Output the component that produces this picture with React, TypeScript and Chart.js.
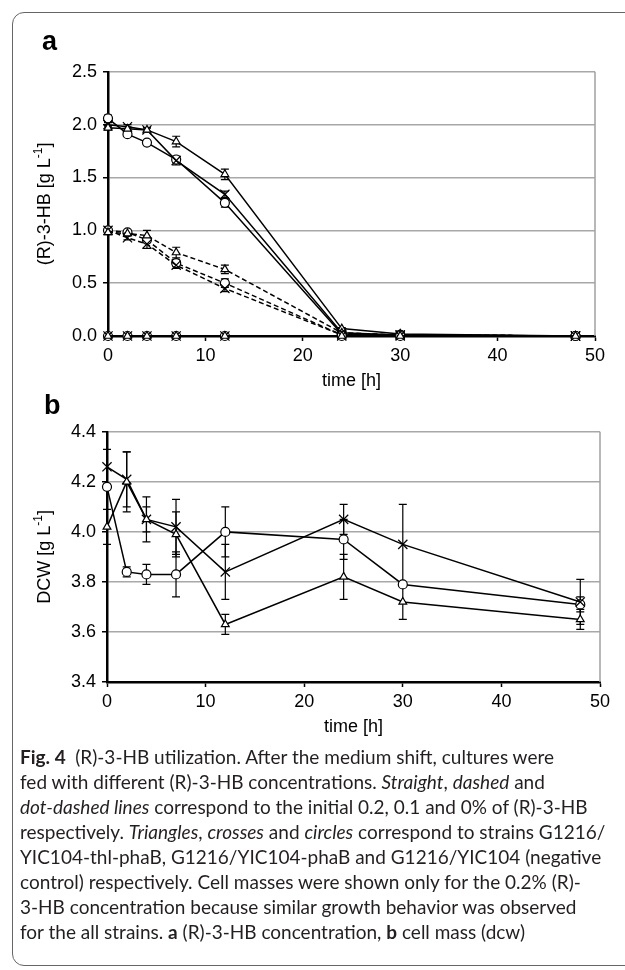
import React, { useEffect, useRef } from "react";
import { Chart, registerables } from "chart.js";

Chart.register(...registerables);

// ---------- data ----------
const times = [0, 2, 4, 7, 12, 24, 30, 48];

// panel a: (R)-3-HB [g/L]
const aTri02 = [1.97, 1.96, 1.95, 1.84, 1.53, 0.07, 0.02, 0.0];
const aCross02 = [2.0, 1.98, 1.95, 1.66, 1.34, 0.03, 0.01, 0.0];
const aCirc02 = [2.06, 1.91, 1.83, 1.67, 1.26, 0.02, 0.01, 0.0];
const aTri01 = [0.98, 0.97, 0.95, 0.79, 0.63, 0.03, 0.01, 0.0];
const aCross01 = [1.0, 0.93, 0.87, 0.67, 0.45, 0.01, 0.01, 0.0];
const aCirc01 = [1.0, 0.98, 0.91, 0.69, 0.5, 0.01, 0.01, 0.0];
const aTri00 = [0, 0, 0, 0, 0, 0, 0, 0];
const aCross00 = [0, 0, 0, 0, 0, 0, 0, 0];
const aCirc00 = [0, 0, 0, 0, 0, 0, 0, 0];

const aTri02Err = [0.02, 0.02, 0.02, 0.05, 0.05, 0.01, 0, 0];
const aCross02Err = [0.02, 0.02, 0.02, 0.04, 0.03, 0, 0, 0];
const aCirc02Err = [0.03, 0.02, 0.02, 0.03, 0.04, 0, 0, 0];
const aTri01Err = [0.02, 0.02, 0.05, 0.05, 0.04, 0, 0, 0];
const aCross01Err = [0.02, 0.02, 0.04, 0.03, 0.03, 0, 0, 0];
const aCirc01Err = [0.02, 0.02, 0.02, 0.03, 0.04, 0, 0, 0];

// panel b: DCW [g/L]
const bTri = [4.02, 4.2, 4.05, 3.99, 3.63, 3.82, 3.72, 3.65];
const bCross = [4.26, 4.21, 4.05, 4.02, 3.84, 4.05, 3.95, 3.72];
const bCirc = [4.18, 3.84, 3.83, 3.83, 4.0, 3.97, 3.79, 3.71];
const bTriErr = [0.07, 0.12, 0.05, 0.09, 0.04, 0.09, 0.07, 0.04];
const bCrossErr = [0.07, 0.11, 0.09, 0.11, 0.11, 0.06, 0.16, 0.09];
const bCircErr = [0.0, 0.02, 0.04, 0.09, 0.1, 0.08, 0.0, 0.03];

const xTitle = "time [h]";
const aYTitle = ["(R)-3-HB [g L", "-1", "]"];
const bYTitle = ["DCW [g L", "-1", "]"];

const captionLines = [
  [["b", "Fig. 4"], ["n", "\u2002(R)-3-HB utilization. After the medium shift, cultures were"]],
  [["n", "fed with different (R)-3-HB concentrations. "], ["i", "Straight"], ["n", ", "], ["i", "dashed"], ["n", " and"]],
  [["i", "dot-dashed lines"], ["n", " correspond to the initial 0.2, 0.1 and 0% of (R)-3-HB"]],
  [["n", "respectively. "], ["i", "Triangles"], ["n", ", "], ["i", "crosses"], ["n", " and "], ["i", "circles"], ["n", " correspond to strains G1216/"]],
  [["n", "YIC104-thl-phaB, G1216/YIC104-phaB and G1216/YIC104 (negative"]],
  [["n", "control) respectively. Cell masses were shown only for the 0.2% (R)-"]],
  [["n", "3-HB concentration because similar growth behavior was observed"]],
  [["n", "for the all strains. "], ["b", "a"], ["n", " (R)-3-HB concentration, "], ["b", "b"], ["n", " cell mass (dcw)"]],
];

const FONT = "'Liberation Sans', Arial, sans-serif";

function mk(vals: number[], errs: number[] | null, style: string, dash: number[]) {
  return {
    data: times.map((t, i) => ({ x: t, y: vals[i] })),
    errs: errs,
    borderColor: "#000",
    borderWidth: 1.5,
    borderDash: dash,
    pointStyle: style,
    pointRadius: style === "crossRot" ? 6.5 : 4.5,
    pointBorderColor: "#000",
    pointBackgroundColor: "#fff",
    pointBorderWidth: 1.2,
    fill: false,
    tension: 0,
    clip: false,
  } as any;
}

const framePlugin = {
  id: "frame",
  beforeDatasetsDraw(chart: any) {
    const { ctx, chartArea } = chart;
    ctx.save();
    ctx.strokeStyle = "#a0a0a0";
    ctx.lineWidth = 1.5;
    ctx.beginPath();
    ctx.moveTo(chartArea.right, chartArea.top);
    ctx.lineTo(chartArea.right, chartArea.bottom);
    ctx.stroke();
    // error bars
    const xs = chart.scales.x;
    const ys = chart.scales.y;
    ctx.strokeStyle = "#000";
    ctx.lineWidth = 1.2;
    ctx.setLineDash([]);
    chart.data.datasets.forEach((ds: any) => {
      if (!ds.errs) return;
      ds.data.forEach((p: any, i: number) => {
        const e = ds.errs[i];
        if (!e) return;
        const px = xs.getPixelForValue(p.x);
        const y1 = ys.getPixelForValue(p.y + e);
        const y2 = ys.getPixelForValue(p.y - e);
        ctx.beginPath();
        ctx.moveTo(px, y1);
        ctx.lineTo(px, y2);
        ctx.moveTo(px - 4, y1);
        ctx.lineTo(px + 4, y1);
        ctx.moveTo(px - 4, y2);
        ctx.lineTo(px + 4, y2);
        ctx.stroke();
      });
    });
    ctx.restore();
  },
  afterDraw(chart: any) {
    const { ctx, chartArea } = chart;
    const opts = chart.options.plugins.frame;
    ctx.save();
    ctx.fillStyle = "#000";
    ctx.font = "18px " + FONT;
    ctx.textAlign = "center";
    ctx.textBaseline = "middle";
    ctx.fillText(xTitle, (chartArea.left + chartArea.right) / 2, chartArea.bottom + opts.xTitleOffset);
    // y title with superscript
    const parts = opts.yTitle;
    ctx.translate(45, (chartArea.top + chartArea.bottom) / 2);
    ctx.rotate(-Math.PI / 2);
    ctx.textAlign = "left";
    ctx.font = "18px " + FONT;
    const w1 = ctx.measureText(parts[0]).width;
    const w3 = ctx.measureText(parts[2]).width;
    ctx.font = "12px " + FONT;
    const w2 = ctx.measureText(parts[1]).width;
    let x0 = -(w1 + w2 + w3) / 2;
    ctx.font = "18px " + FONT;
    ctx.fillText(parts[0], x0, 0);
    ctx.font = "12px " + FONT;
    ctx.fillText(parts[1], x0 + w1, -6);
    ctx.font = "18px " + FONT;
    ctx.fillText(parts[2], x0 + w1 + w2, 0);
    ctx.restore();
  },
};

function makeOptions(yMin: number, yMax: number, step: number, padTop: number, xH: number, yTitle: string[], xTitleOffset: number): any {
  return {
    responsive: false,
    animation: false,
    layout: { padding: { top: padTop, right: 30, left: 0, bottom: 0 } },
    plugins: {
      legend: { display: false },
      tooltip: { enabled: false },
      frame: { yTitle, xTitleOffset },
    },
    scales: {
      x: {
        type: "linear",
        min: 0,
        max: 50,
        ticks: { stepSize: 10, color: "#000", font: { size: 18, family: FONT }, padding: 4, maxRotation: 0 },
        grid: { drawOnChartArea: false, tickColor: "#000", tickLength: 5, tickWidth: 1.5 },
        border: { color: "#000", width: 2.5 },
        afterFit: (s: any) => { s.height = xH; },
      },
      y: {
        min: yMin,
        max: yMax,
        ticks: { stepSize: step, color: "#000", font: { size: 18, family: FONT }, padding: 6, callback: (v: number) => v.toFixed(1) },
        grid: { color: "#a8a8a8", lineWidth: 1.5, tickColor: "#000", tickLength: 5, tickWidth: 1.5 },
        border: { color: "#000", width: 2.5 },
        afterFit: (s: any) => { s.width = 108; },
      },
    },
  };
}

function ChartA() {
  const ref = useRef<HTMLCanvasElement>(null);
  useEffect(() => {
    const dashed = [5, 3];
    const dotDash = [9, 3, 2, 3];
    const chart = new Chart(ref.current as HTMLCanvasElement, {
      type: "line",
      data: {
        datasets: [
          mk(aTri00, null, "triangle", dotDash),
          mk(aCross00, null, "crossRot", dotDash),
          mk(aCirc00, null, "circle", dotDash),
          mk(aTri01, aTri01Err, "triangle", dashed),
          mk(aCross01, aCross01Err, "crossRot", dashed),
          mk(aCirc01, aCirc01Err, "circle", dashed),
          mk(aTri02, aTri02Err, "triangle", []),
          mk(aCross02, aCross02Err, "crossRot", []),
          mk(aCirc02, aCirc02Err, "circle", []),
        ],
      },
      options: makeOptions(0, 2.5, 0.5, 12, 64, aYTitle, 45),
      plugins: [framePlugin],
    } as any);
    return () => chart.destroy();
  }, []);
  return <canvas ref={ref} width={625} height={345} style={{ position: "absolute", left: 0, top: 55 }} />;
}

function ChartB() {
  const ref = useRef<HTMLCanvasElement>(null);
  useEffect(() => {
    const chart = new Chart(ref.current as HTMLCanvasElement, {
      type: "line",
      data: {
        datasets: [
          mk(bTri, bTriErr, "triangle", []),
          mk(bCross, bCrossErr, "crossRot", []),
          mk(bCirc, bCircErr, "circle", []),
        ],
      },
      options: (() => {
        const o = makeOptions(3.4, 4.4, 0.2, 16, 68, bYTitle, 45);
        o.scales.y.afterFit = (s: any) => { s.width = 107; };
        o.layout.padding.right = 25;
        return o;
      })(),
      plugins: [framePlugin],
    } as any);
    return () => chart.destroy();
  }, []);
  return <canvas ref={ref} width={625} height={335} style={{ position: "absolute", left: 0, top: 415 }} />;
}

export default function App() {
  return (
    <div style={{ position: "absolute", left: 0, top: 0, width: 625, height: 970, overflow: "hidden", background: "#fff" }}>
      <div style={{ position: "absolute", left: 12, top: 12, width: 680, height: 952, border: "1.5px solid #666", borderRadius: 12 }} />
      <ChartA />
      <ChartB />
      <div style={{ position: "absolute", left: 42, top: 26, font: "bold 27px " + FONT, color: "#000" }}>a</div>
      <div style={{ position: "absolute", left: 44, top: 390, font: "bold 27px " + FONT, color: "#000" }}>b</div>
      <div style={{ position: "absolute", left: 20, top: 744, fontFamily: "Lato, sans-serif", fontSize: 19, lineHeight: "25px", color: "#231f20", whiteSpace: "nowrap" }}>
        {captionLines.map((line, i) => (
          <div key={i}>
            {line.map((seg, j) => (
              <span key={j} style={{ fontWeight: seg[0] === "b" ? 700 : 400, fontStyle: seg[0] === "i" ? "italic" : "normal" }}>{seg[1]}</span>
            ))}
          </div>
        ))}
      </div>
    </div>
  );
}
